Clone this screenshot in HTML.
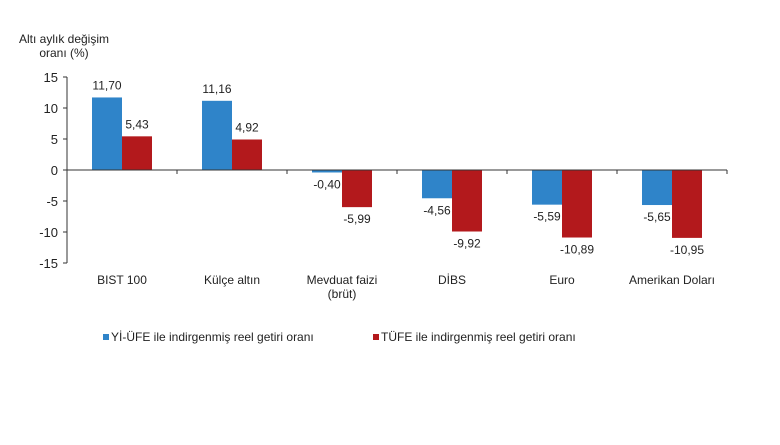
<!DOCTYPE html>
<html><head><meta charset="utf-8"><style>
body{margin:0;background:#fff;font-family:"Liberation Sans",sans-serif;}
svg text{font-family:"Liberation Sans",sans-serif;fill:#222;}
</style></head><body>
<svg width="780" height="440">
<g id="chart"></g>
</svg>
<script>
const categories=["BIST 100","Külçe altın","Mevduat faizi|(brüt)","DİBS","Euro","Amerikan Doları"];
const yiufe=[11.70,11.16,-0.40,-4.56,-5.59,-5.65];
const tufe=[5.43,4.92,-5.99,-9.92,-10.89,-10.95];
const ticks=[15,10,5,0,-5,-10,-15];
const ns="http://www.w3.org/2000/svg";
const g=document.getElementById('chart');
const x0=67,catW=110,barW=30;
const y=v=>170-v*6.2;
function el(t,a,txt){const e=document.createElementNS(ns,t);for(const k in a)e.setAttribute(k,a[k]);if(txt!==undefined)e.textContent=txt;g.appendChild(e);return e;}
const fmt=v=>v.toFixed(2).replace('.',',');
let t=el('text',{x:64,y:43,'font-size':12,'text-anchor':'middle'},'Altı aylık değişim');

t=el('text',{x:64,y:57,'font-size':12,'text-anchor':'middle'},'oranı (%)');

let a=el('line',{x1:x0,y1:y(15),x2:x0,y2:y(-15),stroke:'#333'});

ticks.forEach(v=>{
 let l=el('line',{x1:x0-4,y1:y(v),x2:x0,y2:y(v),stroke:'#333'});
 
 let tx=el('text',{x:x0-9,y:y(v)+5,'font-size':13,'text-anchor':'end'},String(v));
 
});
categories.forEach((c,i)=>{
 const cx=x0+catW*(i+0.5);
 const b1=el('rect',{x:cx-barW,y:Math.min(y(yiufe[i]),y(0)),width:barW,height:Math.abs(y(yiufe[i])-y(0)),fill:'#2f84c9'});
 
 const b2=el('rect',{x:cx,y:Math.min(y(tufe[i]),y(0)),width:barW,height:Math.abs(y(tufe[i])-y(0)),fill:'#b3191c'});
 
 [[yiufe[i],cx-barW/2],[tufe[i],cx+barW/2]].forEach(([v,lx])=>{
  const ly=v>=0?y(v)-8:y(v)+16;
  const lt=el('text',{x:lx,y:ly,'font-size':12,'text-anchor':'middle'},fmt(v));
  
 });
 c.split('|').forEach((p,j)=>{
  const ct=el('text',{x:cx,y:284+j*14,'font-size':12,'text-anchor':'middle'},p);
  
 });
 if(i<categories.length){const tk=el('line',{x1:x0+catW*(i+1),y1:y(0),x2:x0+catW*(i+1),y2:y(0)+4,stroke:'#333'});
 }
});
let z=el('line',{x1:x0,y1:y(0),x2:x0+catW*6,y2:y(0),stroke:'#333'});

[[103,'#2f84c9','Yİ-ÜFE ile indirgenmiş reel getiri oranı'],[373,'#b3191c','TÜFE ile indirgenmiş reel getiri oranı']].forEach(([lx,col,txt])=>{
 const r=el('rect',{x:lx,y:334,width:6,height:6,fill:col});
 
 const lt=el('text',{x:lx+8,y:341,'font-size':12},txt);
 
});
</script>
</body></html>
